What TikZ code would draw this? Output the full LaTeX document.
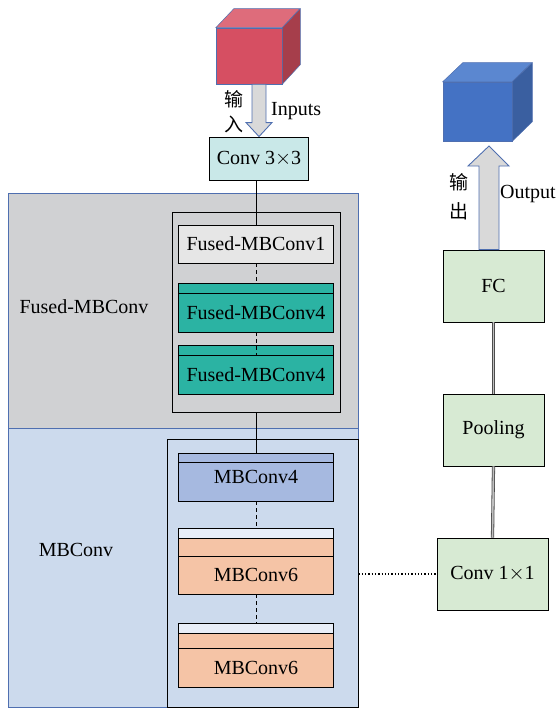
\documentclass[tikz,border=0pt]{standalone}
\usepackage{fontspec}
\setmainfont{Liberation Serif}
\newfontfamily\cjk{Noto Sans CJK SC}
\usetikzlibrary{calc}

\definecolor{fusedbg}{HTML}{D0D1D3}
\definecolor{mbbg}{HTML}{CCDAED}
\definecolor{regline}{HTML}{4F6FB0}
\definecolor{convcol}{HTML}{C9E8E8}
\definecolor{f1col}{HTML}{E6E6E6}
\definecolor{tealcol}{HTML}{2BB3A3}
\definecolor{mb4col}{HTML}{A6B9E0}
\definecolor{mb6col}{HTML}{F5C4A6}
\definecolor{stripcol}{HTML}{E8EEF8}
\definecolor{greencol}{HTML}{D7EAD3}
\definecolor{redf}{HTML}{D64F62}
\definecolor{redt}{HTML}{DE6C7B}
\definecolor{redr}{HTML}{A63E4B}
\definecolor{bluef}{HTML}{4472C4}
\definecolor{bluet}{HTML}{5B87D0}
\definecolor{bluer}{HTML}{3A5FA0}
\definecolor{arrfill}{HTML}{D9D9D9}

\tikzset{
  txt/.style={font=\fontsize{20}{22}\selectfont},
  blk/.style={draw, line width=0.9pt, minimum width=155pt, inner sep=0pt},
  side/.style={draw, line width=0.9pt, fill=greencol, inner sep=0pt},
  cubeface/.style={draw=regline, line width=0.5pt, inner sep=0pt},
  blockarrow/.style={draw=regline, fill=arrfill, line width=0.9pt},
  pipe/.style={draw=gray!60!black, double=gray!50, double distance=1.6pt, line width=0.8pt}
}

\begin{document}
\begin{tikzpicture}[x=1pt,y=-1pt]
\useasboundingbox (0,0) rectangle (558,709);

% stage regions
\draw[regline, line width=0.8pt, fill=fusedbg] (8,193) rectangle (358,428);
\draw[regline, line width=0.8pt, fill=mbbg] (8,428) rectangle (358,707);

\begin{scope}[every node/.style={txt}]
  \node (lfused) at (84,307) {Fused-MBConv};
  \node (lmb)    at (76,550) {MBConv};
\end{scope}

% input cube
\node[cubeface, fill=redf, minimum width=66pt, minimum height=56pt] (cin) at (249,56) {};
\filldraw[redt, draw=regline, line width=0.5pt] (cin.north west) -- ++(18,-19) -- ++(66,0) -- (cin.north east) -- cycle;
\filldraw[redr, draw=regline, line width=0.5pt] (cin.north east) -- ++(18,-19) -- ++(0,56) -- (cin.south east) -- cycle;

% output cube
\node[cubeface, fill=bluef, minimum width=69pt, minimum height=59pt] (cout) at (477.5,111.5) {};
\filldraw[bluet, draw=regline, line width=0.5pt] (cout.north west) -- ++(20,-19) -- ++(69,0) -- (cout.north east) -- cycle;
\filldraw[bluer, draw=regline, line width=0.5pt] (cout.north east) -- ++(20,-19) -- ++(0,59) -- (cout.south east) -- cycle;

% main column
\begin{scope}[every node/.style={txt}]
  \node[draw, line width=0.9pt, fill=convcol, minimum width=99pt, minimum height=43pt, inner sep=0pt] (c3) at (259,158.5) {Conv 3$\times$3};

  \node[draw, line width=0.9pt, minimum width=168pt, minimum height=200pt] (fbox) at (256,312) {};
  \node[blk, fill=f1col, minimum height=38pt] (f1) at (256,244) {Fused-MBConv1};
  \node[blk, fill=tealcol, minimum height=10pt] (f2s) at (256,288) {};
  \node[blk, fill=tealcol, minimum height=39pt] (f2) at (256,312.5) {Fused-MBConv4};
  \node[blk, fill=tealcol, minimum height=10pt] (f3s) at (256,350) {};
  \node[blk, fill=tealcol, minimum height=39pt] (f3) at (256,374.5) {Fused-MBConv4};

  \node[draw, line width=0.9pt, minimum width=191pt, minimum height=268pt] (mbox) at (262.5,573) {};
  \node[blk, fill=mb4col, minimum height=9pt] (m1s) at (256,457.5) {};
  \node[blk, fill=mb4col, minimum height=39pt, text depth=9pt] (m1) at (256,481.5) {MBConv4};
  \node[blk, fill=stripcol, minimum height=10pt] (m2w) at (256,533) {};
  \node[blk, fill=mb6col, minimum height=18pt] (m2s) at (256,547) {};
  \node[blk, fill=mb6col, minimum height=38pt] (m2) at (256,575) {MBConv6};
  \node[blk, fill=stripcol, minimum height=10pt] (m3w) at (256,628) {};
  \node[blk, fill=mb6col, minimum height=15pt] (m3s) at (256,640.5) {};
  \node[blk, fill=mb6col, minimum height=39pt] (m3) at (256,667.5) {MBConv6};
\end{scope}

% right column
\begin{scope}[every node/.style={txt}]
  \node[side, minimum width=101pt, minimum height=72pt] (fc) at (493.5,286) {FC};
  \node[side, minimum width=101pt, minimum height=72pt] (pool) at (493.5,430) {Pooling};
  \node[side, minimum width=111pt, minimum height=72pt] (c1) at (492.5,574) {Conv 1$\times$1};
\end{scope}

% connectors
\draw[line width=0.9pt] (c3.south -| fbox.north) -- (fbox.north);
\draw[line width=0.9pt] (fbox.north) -- (f1.north);
\draw[line width=0.9pt, dash pattern=on 4pt off 3pt] (f1.south) -- (f2s.north);
\draw[line width=0.9pt, dash pattern=on 4pt off 3pt] (f2.south) -- (f3.north);
\draw[line width=0.9pt] (fbox.south) -- (fbox.south |- mbox.north);
\draw[line width=0.9pt] (fbox.south |- mbox.north) -- (m1s.north);
\draw[line width=0.9pt, dash pattern=on 4pt off 3pt] (m1.south) -- (m2w.north);
\draw[line width=0.9pt, dash pattern=on 4pt off 3pt] (m2.south) -- (m3w.north);
\draw[line width=1.3pt, dotted] (mbox.east |- c1.west) -- (c1.west);
\draw[pipe] (fc.south) -- (pool.north);
\draw[pipe] (pool.south) -- (c1.north);

% input arrow
\coordinate (ain) at (c3.north |- cin.south);
\filldraw[blockarrow] ($(ain)+(-7,0)$) -- ($(c3.north)+(-7,-14)$) -- ($(c3.north)+(-13,-14)$) -- (c3.north)
  -- ($(c3.north)+(13,-14)$) -- ($(c3.north)+(7,-14)$) -- ($(ain)+(7,0)$) -- cycle;

% output arrow
\coordinate (otip) at (489,146);
\coordinate (obase) at (fc.north -| otip);
\filldraw[blockarrow] ($(obase)+(-10,0)$) -- ($(otip)+(-10,20)$) -- ($(otip)+(-21,20)$) -- (otip)
  -- ($(otip)+(20,20)$) -- ($(otip)+(10,20)$) -- ($(obase)+(10,0)$) -- cycle;

% arrow labels
\node[font=\cjk\fontsize{19}{25}\selectfont, align=center, inner sep=0pt] (tin) at (234,112) {输\\入};
\node[txt, anchor=west, inner sep=0pt] (tinputs) at (271,111) {Inputs};
\node[font=\cjk\fontsize{19}{29}\selectfont, align=center, inner sep=0pt] (tout) at (459,197) {输\\出};
\node[txt, anchor=west, inner sep=0pt] (toutput) at (500,194) {Output};

\end{tikzpicture}
\end{document}
